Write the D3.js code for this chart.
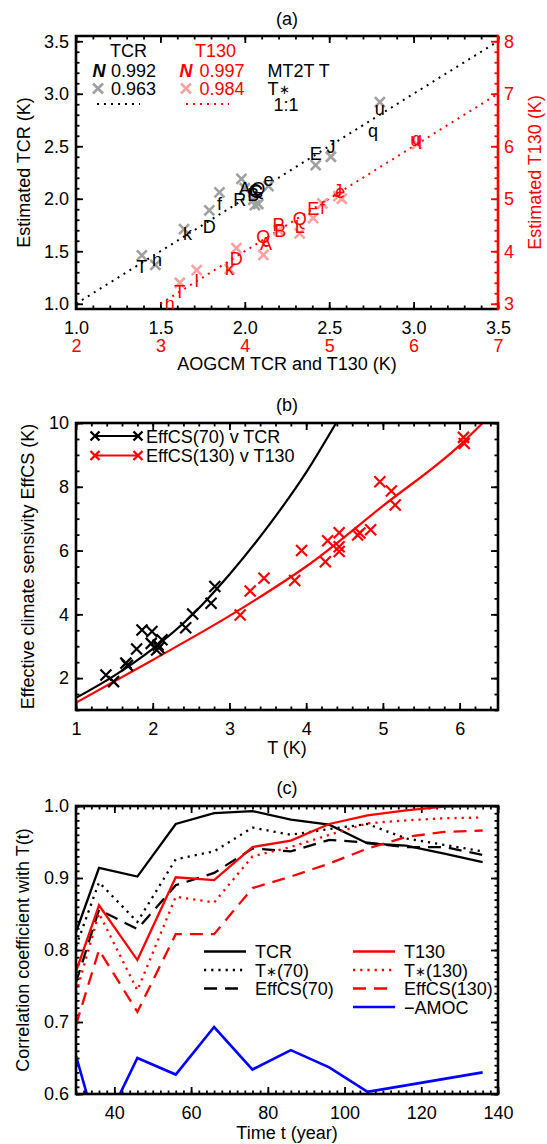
<!DOCTYPE html>
<html lang="en">
<head>
<meta charset="UTF-8">
<title>TCR, T130 and EffCS</title>
<script src="https://cdn.jsdelivr.net/npm/d3@7"></script>
<style>
    body { margin: 0; background: #fff; }
    text { font-family: "Liberation Sans", Arial, Helvetica, sans-serif; font-size: 18px; }
</style>
</head>
<body>
<svg id="fig" width="547" height="1144"></svg>
<script>
const RED = '#ff0000', GREY = '#a0a0a0', PINK = '#ffa0a0', BLUE = '#0000ff';

// ---------- panel (a): MT2T and T* estimates against AOGCM ----------
const tcrLetters = ['T','n','k','D','f','R','A','B','C','G','Q','e','E','J','q','u'];
const tcrAogcm   = [1.39,1.48,1.66,1.79,1.85,1.97,2.00,2.05,2.06,2.07,2.08,2.14,2.42,2.51,2.76,2.80];
const tcrMt2t    = [1.35,1.42,1.67,1.74,1.95,1.99,2.10,2.04,2.08,2.07,2.10,2.18,2.43,2.50,2.65,2.86];
const tcrStarX   = [1.39,1.47,1.64,1.79,1.85,1.98,2.00,2.05,2.06,2.08,2.14,2.42,2.51,2.80];
const tcrStarY   = [1.46,1.37,1.71,1.89,2.06,2.19,2.10,1.99,1.94,1.95,2.12,2.32,2.40,2.92];

const t130Letters = ['n','T','I','k','D','Q','A','P','B','Q','L','E','f','J','e','u','q'];
const t130Aogcm   = [3.11,3.23,3.43,3.82,3.90,4.22,4.25,4.40,4.42,4.65,4.65,4.81,4.92,5.10,5.13,6.02,6.04];
const t130Mt2t    = [3.01,3.23,3.45,3.68,3.87,4.28,4.15,4.50,4.40,4.63,4.47,4.82,4.84,5.16,5.14,6.12,6.15];
const t130StarX   = [3.23,3.43,3.82,3.90,4.22,4.40,4.65,4.81,4.92,5.11,5.15,6.04];
const t130StarY   = [3.40,3.64,3.66,4.06,3.93,4.40,4.34,4.63,4.91,5.05,5.00,6.04];

const oneToOneTcr  = [1, 3.5];
const oneToOneT130 = [3, 7];

// ---------- panel (b): EffCS against TCR / T130 ----------
const effTcr   = [1.39,1.49,1.65,1.67,1.79,1.86,1.99,1.98,2.05,2.07,2.12,2.08,2.43,2.52,2.76,2.81];
const eff70    = [2.10,1.89,2.47,2.40,2.91,3.51,3.46,3.09,2.88,3.04,3.20,2.95,3.58,4.01,4.35,4.87];
const effT130  = [3.14,3.27,3.45,3.85,3.94,4.25,4.28,4.43,4.43,4.43,4.67,4.70,4.84,4.96,5.11,5.16,6.05,6.06];
const eff130   = [3.98,4.73,5.13,5.06,6.00,5.65,6.31,6.56,6.12,5.97,6.49,6.55,6.65,8.16,7.87,7.43,9.55,9.36];
const fit70X   = [1.0,1.5,2.0,2.5,3.0,3.5,4.0,4.39];
const fit70Y   = [1.38,2.08,2.92,3.95,5.25,6.75,8.45,10.0];
const fit130X  = [1.0,2.0,3.0,3.5,4.0,5.0,6.0,6.3];
const fit130Y  = [1.23,2.57,3.95,4.70,5.50,7.40,9.30,10.0];

// ---------- panel (c): correlation with T(t) ----------
const years      = [30,36,46,56,66,76,86,96,106,116,126,136];
const corrTcr    = [0.825,0.914,0.902,0.975,0.990,0.993,0.981,0.974,0.948,0.945,0.934,0.922];
const corrStar70 = [0.805,0.894,0.839,0.926,0.937,0.970,0.960,0.968,0.975,0.955,0.946,0.937];
const corrEff70  = [0.755,0.856,0.829,0.890,0.907,0.941,0.937,0.953,0.949,0.943,0.943,0.932];
const corrT130   = [0.770,0.862,0.786,0.901,0.897,0.943,0.952,0.975,0.987,0.994,0.999,1.000];
const corrStar130= [0.740,0.851,0.744,0.874,0.866,0.930,0.943,0.960,0.976,0.980,0.983,0.984];
const corrEff130 = [0.696,0.800,0.714,0.822,0.822,0.886,0.902,0.920,0.941,0.957,0.964,0.966];
const corrAmoc   = [0.653,0.540,0.650,0.627,0.693,0.634,0.661,0.637,0.603,0.612,0.621,0.630];

const svg = d3.select('#fig');

const cross = s => `M${-s},${-s}L${s},${s}M${-s},${s}L${s},${-s}`;

// inward IDL-style ticks, major + minor
function axis(gen, scale, at, majors, minors, fmt, pad, colour) {
    const a = svg.append('g').attr('transform', at);
    a.append('g').call(gen(scale).tickValues(minors).tickSize(-3.5).tickFormat(() => ''));
    a.append('g').call(gen(scale).tickValues(majors).tickSize(-7).tickPadding(pad).tickFormat(fmt));
    a.selectAll('.domain').remove();
    a.selectAll('line').attr('stroke', colour).attr('stroke-width', 1.8);
    a.selectAll('text').attr('fill', colour);
    return a;
}

function frame(l, r, t, b) {
    svg.append('rect').attr('x', l).attr('y', t).attr('width', r - l).attr('height', b - t)
        .attr('fill', 'none').attr('stroke', '#000').attr('stroke-width', 2.6);
}

function clip(id, l, r, t, b) {
    svg.append('clipPath').attr('id', id).append('rect')
        .attr('x', l).attr('y', t).attr('width', r - l).attr('height', b - t);
}

function ylabel(txt, x, cy, colour) {
    svg.append('text').attr('transform', `translate(${x},${cy}) rotate(-90)`)
        .attr('text-anchor', 'middle').attr('fill', colour || '#000').text(txt);
}

function title(txt, y) {
    svg.append('text').attr('x', 287).attr('y', y).attr('text-anchor', 'middle').text(txt);
}

const L = 76, R = 498;

// ================= (a) =================
const xA  = d3.scaleLinear().domain([1, 3.5]).range([L, R]);
const yA  = d3.scaleLinear().domain([0.95, 3.55]).range([309, 36]);
const xA2 = d3.scaleLinear().domain([2, 7]).range([L, R]);
const yA2 = d3.scaleLinear().domain([2.9, 8.1]).range([309, 36]);
clip('clipA', L, R, 36, 309);

title('(a)', 25);

const f1 = d3.format('.1f');
const halfTicks = d3.range(1, 3.51, 0.5);
const tenthTicks = d3.range(1, 3.51, 0.1);
axis(d3.axisBottom, xA, 'translate(0,309)', halfTicks, tenthTicks, f1, 12, '#000');
axis(d3.axisTop, xA, 'translate(0,36)', halfTicks, tenthTicks, () => '', 0, '#000');
axis(d3.axisLeft, yA, `translate(${L},0)`, halfTicks, tenthTicks, f1, 7, '#000');
axis(d3.axisRight, yA2, `translate(${R},0)`, d3.range(3, 8.01, 1), d3.range(3, 8.01, 0.2), d3.format('d'), 6, RED);
// second row of x labels (T130)
const xr = svg.append('g').attr('transform', 'translate(0,309)')
    .call(d3.axisBottom(xA2).tickValues(d3.range(2, 7.01, 1)).tickSize(0).tickPadding(30).tickFormat(d3.format('d')));
xr.select('.domain').remove();
xr.selectAll('text').attr('fill', RED);

// frame: black with red right side
svg.append('path').attr('d', `M${R},36H${L}V309H${R}`).attr('fill', 'none').attr('stroke', '#000').attr('stroke-width', 2.6);
svg.append('line').attr('x1', R).attr('x2', R).attr('y1', 34.7).attr('y2', 310.3).attr('stroke', RED).attr('stroke-width', 2.6);

const gA = svg.append('g').attr('clip-path', 'url(#clipA)');
gA.append('line')
    .attr('x1', xA(oneToOneTcr[0])).attr('y1', yA(oneToOneTcr[0]))
    .attr('x2', xA(oneToOneTcr[1])).attr('y2', yA(oneToOneTcr[1]))
    .attr('stroke', '#000').attr('stroke-width', 2).attr('stroke-dasharray', '2,5');
gA.append('line')
    .attr('x1', xA2(oneToOneT130[0])).attr('y1', yA2(oneToOneT130[0]))
    .attr('x2', xA2(oneToOneT130[1])).attr('y2', yA2(oneToOneT130[1]))
    .attr('stroke', RED).attr('stroke-width', 2).attr('stroke-dasharray', '2,5');

gA.selectAll('.gx').data(tcrStarX).enter().append('path')
    .attr('transform', (d, i) => `translate(${xA(d)},${yA(tcrStarY[i])})`)
    .attr('d', cross(5)).attr('stroke', GREY).attr('stroke-width', 2.6).attr('fill', 'none');
gA.selectAll('.px').data(t130StarX).enter().append('path')
    .attr('transform', (d, i) => `translate(${xA2(d)},${yA2(t130StarY[i])})`)
    .attr('d', cross(5)).attr('stroke', PINK).attr('stroke-width', 2.6).attr('fill', 'none');

gA.selectAll('.bl').data(tcrLetters).enter().append('text')
    .attr('x', (d, i) => xA(tcrAogcm[i])).attr('y', (d, i) => yA(tcrMt2t[i]))
    .attr('dy', '0.36em').attr('text-anchor', 'middle').attr('fill', '#000').text(d => d);
gA.selectAll('.rl').data(t130Letters).enter().append('text')
    .attr('x', (d, i) => xA2(t130Aogcm[i])).attr('y', (d, i) => yA2(t130Mt2t[i]))
    .attr('dy', '0.36em').attr('text-anchor', 'middle').attr('fill', RED).text(d => d);

// legend (a)
svg.append('text').attr('x', 110).attr('y', 56.5).text('TCR');
svg.append('text').attr('x', 195).attr('y', 56.5).attr('fill', RED).text('T130');
svg.append('text').attr('x', 99).attr('y', 76.5).attr('text-anchor', 'middle')
    .attr('font-weight', 'bold').attr('font-style', 'italic').text('N');
svg.append('text').attr('x', 111).attr('y', 76.5).text('0.992');
svg.append('text').attr('x', 186).attr('y', 76.5).attr('text-anchor', 'middle').attr('fill', RED)
    .attr('font-weight', 'bold').attr('font-style', 'italic').text('N');
svg.append('text').attr('x', 199.5).attr('y', 76.5).attr('fill', RED).text('0.997');
svg.append('text').attr('x', 267.5).attr('y', 76.5).text('MT2T T');
svg.append('path').attr('transform', 'translate(98,88.5)').attr('d', cross(5))
    .attr('stroke', GREY).attr('stroke-width', 2.6);
svg.append('text').attr('x', 111).attr('y', 95).text('0.963');
svg.append('path').attr('transform', 'translate(186,88.5)').attr('d', cross(5))
    .attr('stroke', PINK).attr('stroke-width', 2.6);
svg.append('text').attr('x', 199.5).attr('y', 95).attr('fill', RED).text('0.984');
const ts = svg.append('text').attr('x', 267.5).attr('y', 95).text('T');
ts.append('tspan').attr('font-size', 13).attr('dy', -1).text('∗');
svg.append('line').attr('x1', 97).attr('x2', 140).attr('y1', 104).attr('y2', 104)
    .attr('stroke', '#000').attr('stroke-width', 2).attr('stroke-dasharray', '2,5');
svg.append('line').attr('x1', 186).attr('x2', 229).attr('y1', 104).attr('y2', 104)
    .attr('stroke', RED).attr('stroke-width', 2).attr('stroke-dasharray', '2,5');
svg.append('text').attr('x', 273.5).attr('y', 111).text('1:1');

svg.append('text').attr('x', 287).attr('y', 370).attr('text-anchor', 'middle').text('AOGCM TCR and T130 (K)');
ylabel('Estimated TCR (K)', 30, 172.5);
ylabel('Estimated T130 (K)', 541, 172.5, RED);

// ================= (b) =================
const xB = d3.scaleLinear().domain([1, 6.5]).range([L, R]);
const yB = d3.scaleLinear().domain([1, 10]).range([710, 423]);
clip('clipB', L, R, 423, 710);
title('(b)', 410.5);

const bxMaj = d3.range(1, 6.01, 1), bxMin = d3.range(1, 6.5, 0.2);
const byMaj = d3.range(2, 10.01, 2), byMin = d3.range(1, 10.01, 0.5);
axis(d3.axisBottom, xB, 'translate(0,710)', bxMaj, bxMin, d3.format('d'), 12, '#000');
axis(d3.axisTop, xB, 'translate(0,423)', bxMaj, bxMin, () => '', 0, '#000');
axis(d3.axisLeft, yB, `translate(${L},0)`, byMaj, byMin, d3.format('d'), 7, '#000');
axis(d3.axisRight, yB, `translate(${R},0)`, byMaj, byMin, () => '', 0, '#000');

const gB = svg.append('g').attr('clip-path', 'url(#clipB)');
const lineB = d3.line().curve(d3.curveMonotoneX);
gB.append('path').attr('d', lineB(fit70X.map((d, i) => [xB(d), yB(fit70Y[i])])))
    .attr('fill', 'none').attr('stroke', '#000').attr('stroke-width', 2.2);
gB.append('path').attr('d', lineB(fit130X.map((d, i) => [xB(d), yB(fit130Y[i])])))
    .attr('fill', 'none').attr('stroke', RED).attr('stroke-width', 2.2);
gB.selectAll('.kx').data(effTcr).enter().append('path')
    .attr('transform', (d, i) => `translate(${xB(d)},${yB(eff70[i])})`)
    .attr('d', cross(5.5)).attr('stroke', '#000').attr('stroke-width', 2.2);
gB.selectAll('.rx').data(effT130).enter().append('path')
    .attr('transform', (d, i) => `translate(${xB(d)},${yB(eff130[i])})`)
    .attr('d', cross(5.5)).attr('stroke', RED).attr('stroke-width', 2.2);
frame(L, R, 423, 710);

// legend (b)
[['EffCS(70) v TCR', '#000', 436], ['EffCS(130) v T130', RED, 455.5]].forEach(([lab, c, y]) => {
    svg.append('line').attr('x1', 95).attr('x2', 138).attr('y1', y).attr('y2', y).attr('stroke', c).attr('stroke-width', 2.2);
    svg.append('path').attr('transform', `translate(95,${y})`).attr('d', cross(4.5)).attr('stroke', c).attr('stroke-width', 2.4);
    svg.append('path').attr('transform', `translate(138,${y})`).attr('d', cross(4.5)).attr('stroke', c).attr('stroke-width', 2.4);
    svg.append('text').attr('x', 146).attr('y', y + 6.5).text(lab);
});

svg.append('text').attr('x', 287).attr('y', 754).attr('text-anchor', 'middle').text('T (K)');
ylabel('Effective climate sensivity EffCS (K)', 34, 566.5);

// ================= (c) =================
const xC = d3.scaleLinear().domain([30, 140]).range([L, R]);
const yC = d3.scaleLinear().domain([0.6, 1.0]).range([1094, 806]);
clip('clipC', L, R, 806, 1094);
title('(c)', 793.5);

const cxMaj = d3.range(40, 140.1, 20), cxMin = d3.range(30, 140.1, 2);
const cyMaj = d3.range(0.6, 1.001, 0.1), cyMin = d3.range(0.6, 1.0001, 0.01);
axis(d3.axisBottom, xC, 'translate(0,1094)', cxMaj, cxMin, d3.format('d'), 12, '#000');
axis(d3.axisTop, xC, 'translate(0,806)', cxMaj, cxMin, () => '', 0, '#000');
axis(d3.axisLeft, yC, `translate(${L},0)`, cyMaj, cyMin, f1, 7, '#000');
axis(d3.axisRight, yC, `translate(${R},0)`, cyMaj, cyMin, () => '', 0, '#000');

const seriesC = [
    {name: 'TCR',        vals: corrTcr,     colour: '#000', dash: null},
    {name: 'T∗(70)',     vals: corrStar70,  colour: '#000', dash: '2.2,5'},
    {name: 'EffCS(70)',  vals: corrEff70,   colour: '#000', dash: '13,8'},
    {name: 'T130',       vals: corrT130,    colour: RED,    dash: null},
    {name: 'T∗(130)',    vals: corrStar130, colour: RED,    dash: '2.2,5'},
    {name: 'EffCS(130)', vals: corrEff130,  colour: RED,    dash: '13,8'},
    {name: '−AMOC',      vals: corrAmoc,    colour: BLUE,   dash: null}
];
const gC = svg.append('g').attr('clip-path', 'url(#clipC)');
const lineC = d3.line().x(d => xC(d[0])).y(d => yC(d[1]));
seriesC.forEach(s => {
    gC.append('path').attr('d', lineC(years.map((t, i) => [t, s.vals[i]])))
        .attr('fill', 'none').attr('stroke', s.colour).attr('stroke-width', s.colour === BLUE ? 2.6 : 2.3)
        .attr('stroke-dasharray', s.dash);
});
frame(L, R, 806, 1094);

// legend (c)
const legRows = [951.5, 970, 988.5, 1007];
seriesC.forEach((s, i) => {
    const col = i < 3 ? 0 : 1;
    const row = i < 3 ? i : i - 3;
    const x0 = col ? 353 : 204;
    const y = legRows[row];
    svg.append('line').attr('x1', x0).attr('x2', x0 + 42).attr('y1', y).attr('y2', y)
        .attr('stroke', s.colour).attr('stroke-width', 2.3).attr('stroke-dasharray', s.dash);
    const t = svg.append('text').attr('x', x0 + 51).attr('y', y + 6.5);
    if (s.name.startsWith('T∗')) {
        t.append('tspan').text('T');
        t.append('tspan').attr('font-size', 13).attr('dy', -1).text('∗');
        t.append('tspan').attr('dy', 1).text(s.name.slice(2));
    } else {
        t.text(s.name);
    }
});

svg.append('text').attr('x', 287).attr('y', 1139).attr('text-anchor', 'middle').text('Time t (year)');
ylabel('Correlation coefficient with T(t)', 29, 950);
</script>
</body>
</html>
